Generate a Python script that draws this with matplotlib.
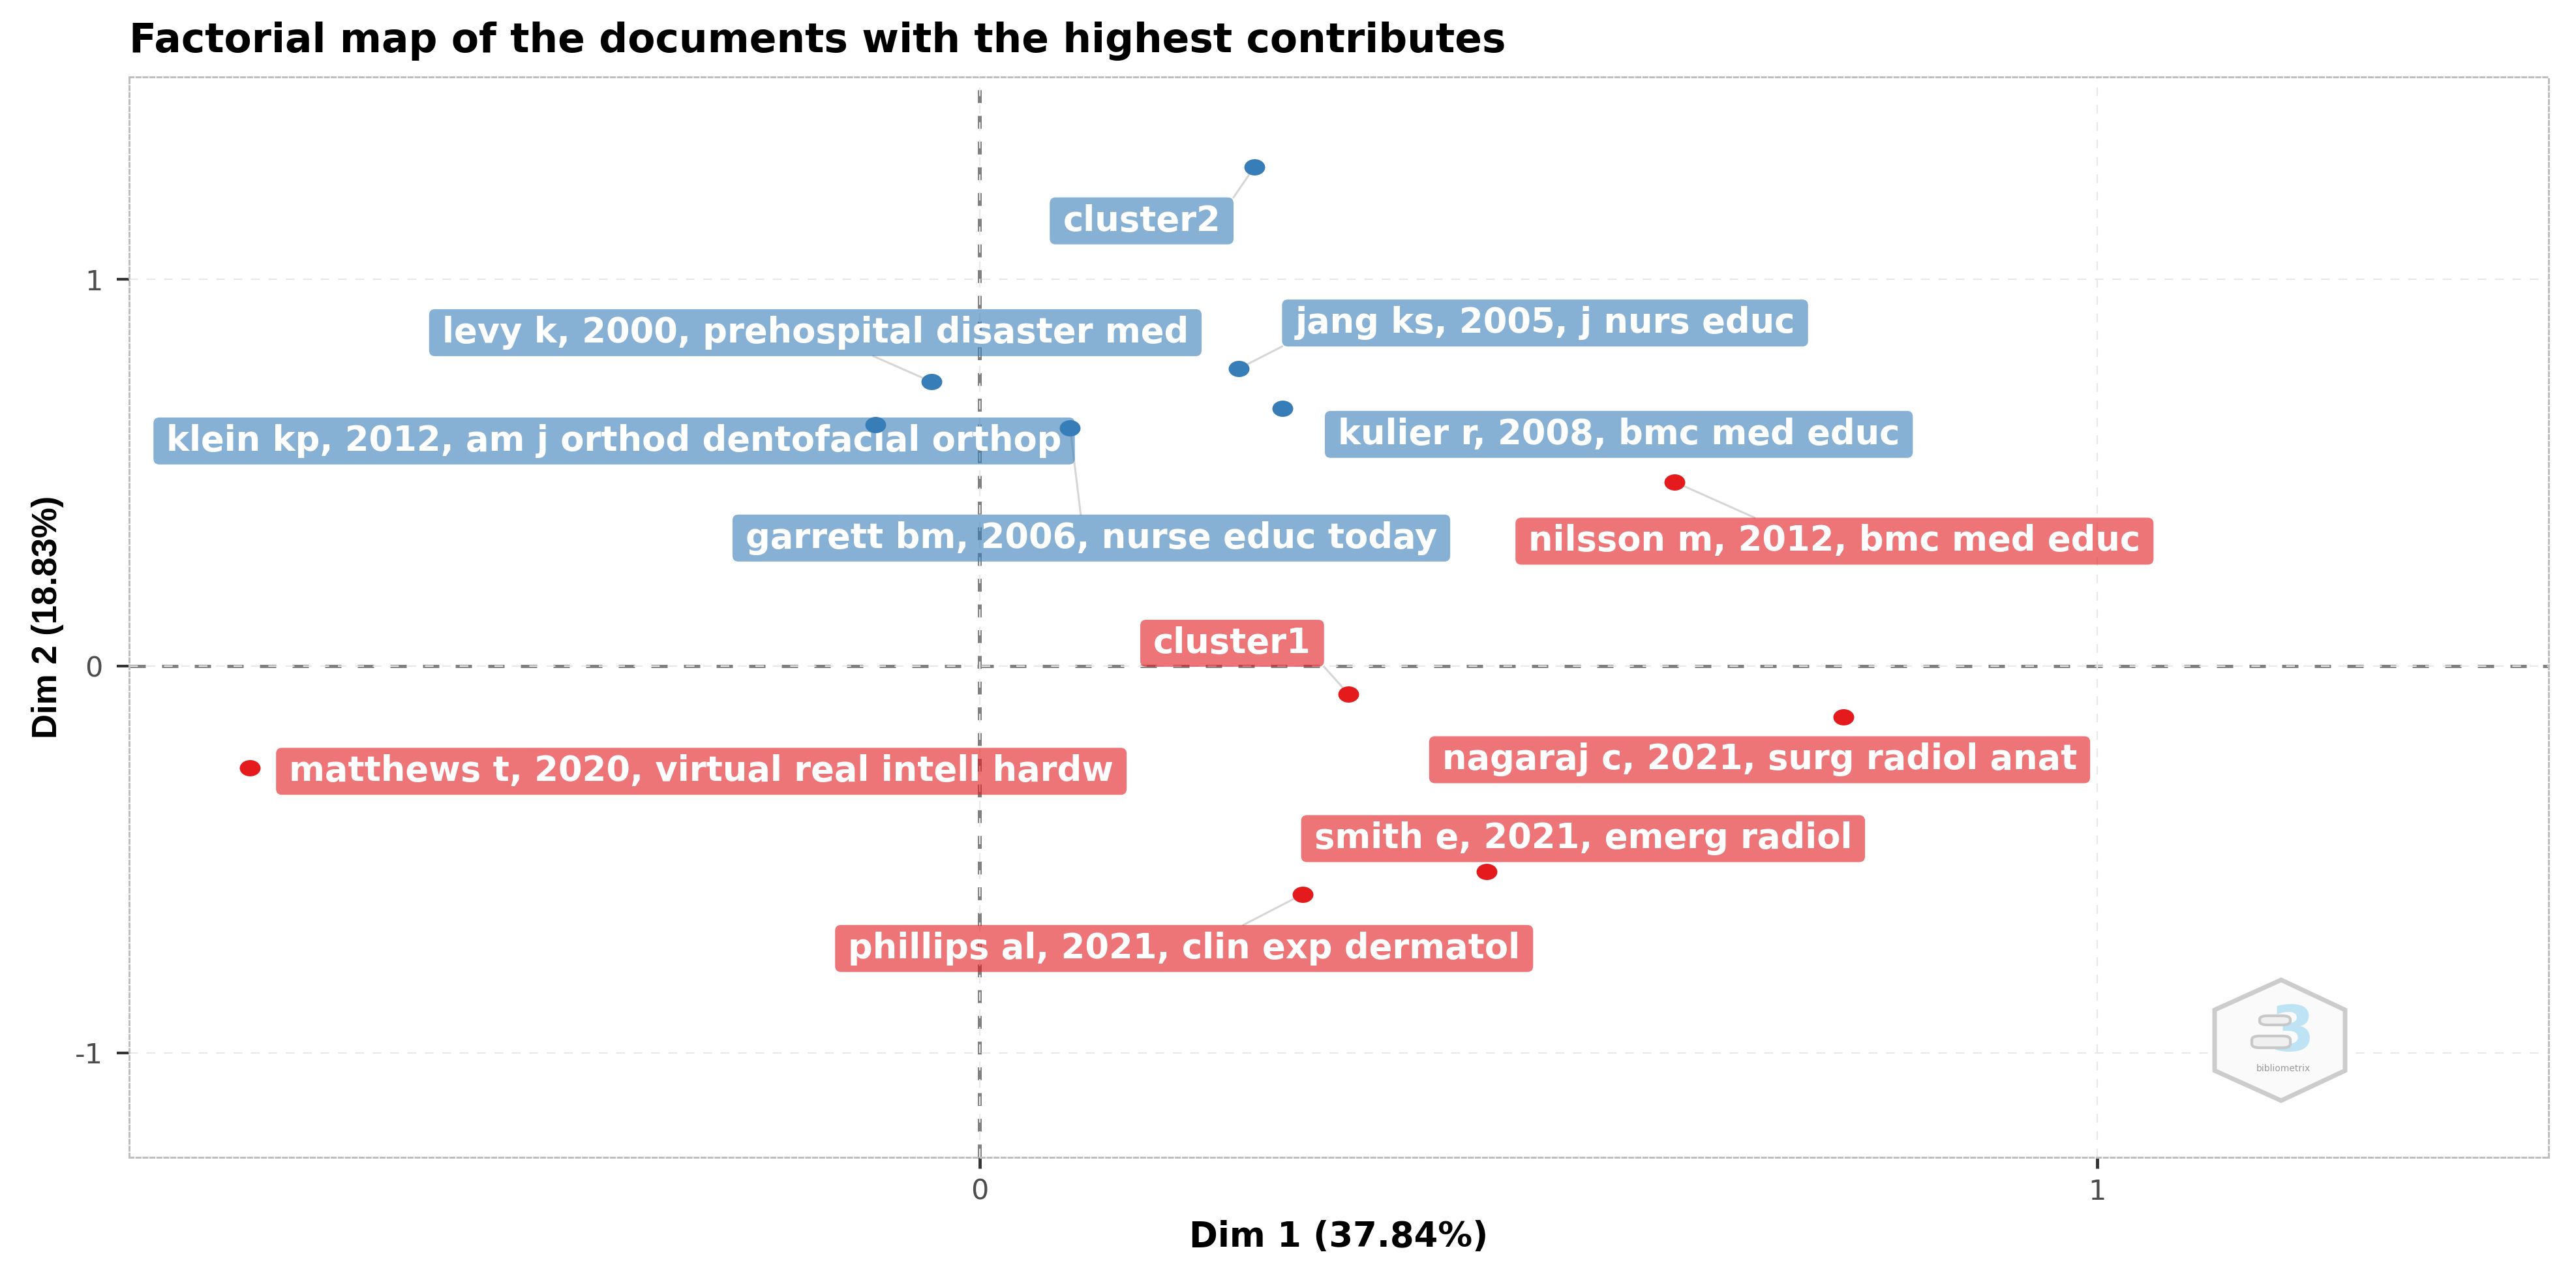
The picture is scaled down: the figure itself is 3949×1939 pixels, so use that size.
import numpy as np
import matplotlib
matplotlib.use('Agg')
import matplotlib.pyplot as plt
from matplotlib.patches import Polygon, FancyBboxPatch
from matplotlib.path import Path
from matplotlib.transforms import IdentityTransform

labels = ['cluster2', 'levy k, 2000, prehospital disaster med',
          'jang ks, 2005, j nurs educ', 'kulier r, 2008, bmc med educ',
          'klein kp, 2012, am j orthod dentofacial orthop',
          'garrett bm, 2006, nurse educ today',
          'nilsson m, 2012, bmc med educ', 'cluster1',
          'nagaraj c, 2021, surg radiol anat',
          'matthews t, 2020, virtual real intell hardw',
          'smith e, 2021, emerg radiol',
          'phillips al, 2021, clin exp dermatol']
dim1 = [0.246, -0.043, 0.232, 0.271, -0.093, 0.081, 0.622, 0.330, 0.773, -0.653, 0.454, 0.289]
dim2 = [1.291, 0.735, 0.769, 0.667, 0.624, 0.616, 0.476, -0.072, -0.132, -0.263, -0.531, -0.590]
cluster = [2, 2, 2, 2, 2, 2, 1, 1, 1, 1, 1, 1]

# repelled label positions (layout only)
lab_x = [0.145, -0.147, 0.506, 0.572, -0.327, 0.100, 0.765, 0.226, 0.698, -0.249, 0.540, 0.183]
lab_y = [1.151, 0.862, 0.887, 0.599, 0.582, 0.331, 0.323, 0.059, -0.242, -0.272, -0.446, -0.730]
with_segment = [True, True, True, False, False, True, True, True, False, False, False, True]

colors = {1: '#E41A1C', 2: '#377EB8'}

plt.rcParams['font.family'] = ['DejaVu Sans']

W, H = 3949, 1939
fig = plt.figure(figsize=(W / 100, H / 100), dpi=100)
ax = fig.add_axes([198 / W, 1 - 1774 / H, (3907 - 198) / W, (1774 - 118) / H])
ax.set_xlim(-0.761, 1.404)
ax.set_ylim(-1.270, 1.523)

ax.set_xticks([0, 1])
ax.set_yticks([-1, 0, 1])
ax.set_xticklabels(['0', '1'])
ax.set_yticklabels(['-1', '0', '1'])
ax.tick_params(axis='x', length=12, width=3.5, color='#333333',
               labelsize=31, labelcolor='#4D4D4D', pad=11)
ax.tick_params(axis='y', length=14, width=3, color='#333333',
               labelsize=31, labelcolor='#4D4D4D', pad=15)
ax.grid(True, color='#E8E8E8', linestyle=(0, (6, 6)), linewidth=1.6, zorder=0)
for sp in ax.spines.values():
    sp.set_color('#BEBEBE')
    sp.set_linewidth(2.2)
    sp.set_linestyle((0, (2, 1.5)))

ax.axhline(0, color='#808080', linestyle=(0, (5, 5)), linewidth=3.6, zorder=1)
ax.axvline(0, color='#808080', linestyle=(0, (3.3, 3.3)), linewidth=4.3, zorder=1)

texts = []
for i in range(len(labels)):
    t = ax.text(lab_x[i], lab_y[i], labels[i], ha='center', va='center',
                fontsize=38, fontweight='bold', color='white', zorder=4)
    texts.append(t)

fig.canvas.draw()
renderer = fig.canvas.get_renderer()
inv = ax.transData.inverted()
pad_x, pad_y = 20, 10
for i in range(len(labels)):
    c = colors[cluster[i]]
    bb = texts[i].get_window_extent(renderer)
    x0, y0 = bb.x0 - pad_x, bb.y0 - pad_y
    x1, y1 = bb.x1 + pad_x, bb.y1 + pad_y
    box = FancyBboxPatch((x0, y0), x1 - x0, y1 - y0,
                         boxstyle='round,pad=0,rounding_size=9',
                         transform=IdentityTransform(), fc=c, ec='none',
                         alpha=0.6, zorder=3.5)
    ax.add_artist(box)
    if not with_segment[i]:
        continue
    # connection point on the box, as ggrepel picks it
    px, py = ax.transData.transform((dim1[i], dim2[i]))
    cx, cy = (x0 + x1) / 2, (y0 + y1) / 2
    if x0 <= px <= x1:
        ex = (px + cx) / 2
    else:
        ex = x0 if px < x0 else x1
    if y0 <= py <= y1:
        ey = (py + cy) / 2
    else:
        ey = y0 if py < y0 else y1
    (a0, b0), (a1, b1) = inv.transform([(px, py), (ex, ey)])
    ax.plot([a0, a1], [b0, b1], color='#D6D6D6', linewidth=2.2, zorder=3)

# points are slightly wider than tall in the original
circ = Path.unit_circle()
ellipse = Path(circ.vertices * np.array([1.28, 1.0]), circ.codes)
for k in (1, 2):
    xs = [dim1[i] for i in range(len(labels)) if cluster[i] == k]
    ys = [dim2[i] for i in range(len(labels)) if cluster[i] == k]
    ax.plot(xs, ys, linestyle='none', marker=ellipse, color=colors[k],
            markersize=23, markeredgewidth=0, zorder=5)

ax.set_xlabel('Dim 1 (37.84%)', fontsize=38, fontweight='bold', labelpad=16)
ax.set_ylabel('Dim 2 (18.83%)', fontsize=38, fontweight='bold', labelpad=12,
              family='Liberation Sans')
fig.text(198 / W, 1 - 80 / H, 'Factorial map of the documents with the highest contributes',
         fontsize=44.3, fontweight='bold', ha='left', va='baseline')

# bibliometrix watermark
def fp(x, y):
    return (x / W, 1 - y / H)

hexpts = [fp(3497, 1502), fp(3595, 1548), fp(3595, 1641),
          fp(3497, 1687), fp(3395, 1641), fp(3395, 1548)]
fig.patches.append(Polygon(hexpts, closed=True, transform=fig.transFigure,
                           fc='#FAFAFA', ec='#CCCCCC', lw=5, zorder=6))
fig.text(*fp(3514, 1584), '3', fontsize=70, fontweight='bold',
         color='#BDE3F4', ha='center', va='center', zorder=8)
for bx0, by0, bx1, by1 in ((3464, 1557, 3511, 1571), (3452, 1588, 3511, 1606)):
    (u0, v1), (u1, v0) = fp(bx0, by0), fp(bx1, by1)
    fig.patches.append(FancyBboxPatch((u0, v0), u1 - u0, v1 - v0,
                                      boxstyle='round,pad=0,rounding_size=0.003',
                                      transform=fig.transFigure, fc='#F0F0F0',
                                      ec='#C8C8C8', lw=3, zorder=9))
fig.text(*fp(3500, 1638), 'bibliometrix', fontsize=10, color='#9A9A9A',
         ha='center', va='center', zorder=8)

fig.savefig('out.png', dpi=100)
